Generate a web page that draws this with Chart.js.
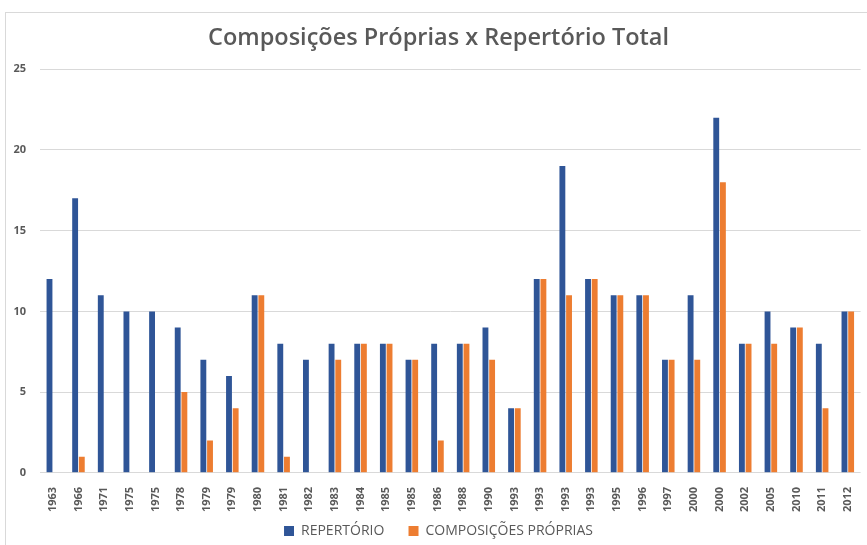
<!DOCTYPE html>
<html lang="pt">
<head>
<meta charset="UTF-8" />
<title>Composições Próprias x Repertório Total</title>
<script src="https://cdn.jsdelivr.net/npm/chart.js"></script>
<style>
    html, body {
        margin: 0;
        padding: 0;
        background: #fff;
        overflow: hidden;
    }

    .frame {
        position: absolute;
        left: 5px;
        top: 12px;
        width: 870px;
        height: 540px;
        border-left: 1px solid #d9d9d9;
        border-top: 1px solid #d9d9d9;
    }

    .frame canvas {
        position: absolute;
        left: 0;
        top: 0;
    }
</style>
</head>
<body>
<div class="frame">
    <canvas id="chart" width="861" height="535"></canvas>
</div>

<script>
    // anos de cada disco
    const anos = ['1963', '1966', '1971', '1975', '1975', '1978', '1979', '1979', '1980', '1981',
        '1982', '1983', '1984', '1985', '1985', '1986', '1988', '1990', '1993', '1993',
        '1993', '1993', '1995', '1996', '1997', '2000', '2000', '2002', '2005', '2010',
        '2011', '2012'];

    const repertorio = [12, 17, 11, 10, 10, 9, 7, 6, 11, 8,
        7, 8, 8, 8, 7, 8, 8, 9, 4, 12,
        19, 12, 11, 11, 7, 11, 22, 8, 10, 9,
        8, 10];

    const composicoes = [0, 1, 0, 0, 0, 5, 2, 4, 11, 1,
        0, 7, 8, 8, 7, 2, 8, 7, 4, 12,
        11, 12, 11, 11, 7, 7, 18, 8, 8, 9,
        4, 10];

    const yTicks = [0, 5, 10, 15, 20, 25];

    const cinza = '#595959';

    new Chart(document.getElementById('chart'), {
        type: 'bar',
        data: {
            labels: anos,
            datasets: [
                {
                    label: 'REPERTÓRIO',
                    data: repertorio,
                    backgroundColor: '#2f5597',
                    categoryPercentage: 0.52,
                    barPercentage: 0.88
                },
                {
                    label: 'COMPOSIÇÕES PRÓPRIAS',
                    data: composicoes,
                    backgroundColor: '#ed7d31',
                    categoryPercentage: 0.52,
                    barPercentage: 0.88
                }
            ]
        },
        options: {
            responsive: false,
            animation: false,
            layout: { padding: { left: 4, right: 0, top: 4, bottom: 0 } },
            plugins: {
                title: {
                    display: true,
                    text: 'Composições Próprias x Repertório Total',
                    color: cinza,
                    font: { family: 'Open Sans', size: 23.5, weight: '600' },
                    padding: { top: 7, bottom: 17 }
                },
                legend: {
                    position: 'bottom',
                    labels: {
                        color: cinza,
                        boxWidth: 10,
                        boxHeight: 10,
                        padding: 6,
                        font: { family: 'Open Sans', size: 14 },
                        // espaço extra depois do primeiro item
                        generateLabels: chart => {
                            const items = Chart.defaults.plugins.legend.labels.generateLabels(chart);
                            items[0].text += '     ';
                            return items;
                        }
                    }
                },
                tooltip: { enabled: false }
            },
            scales: {
                x: {
                    grid: { display: false },
                    border: { display: false },
                    ticks: {
                        color: cinza,
                        minRotation: 90,
                        maxRotation: 90,
                        autoSkip: false,
                        padding: 6,
                        font: { family: 'Open Sans', size: 11, weight: 'bold' }
                    }
                },
                y: {
                    min: 0,
                    max: 25,
                    afterBuildTicks: axis => {
                        axis.ticks = yTicks.map(v => ({ value: v }));
                    },
                    afterFit: axis => {
                        axis.width = 30;
                    },
                    grid: { color: '#d9d9d9', drawTicks: false },
                    border: { display: false },
                    ticks: {
                        color: cinza,
                        padding: 14,
                        font: { family: 'Open Sans', size: 11, weight: 'bold' }
                    }
                }
            }
        }
    });
</script>
</body>
</html>
